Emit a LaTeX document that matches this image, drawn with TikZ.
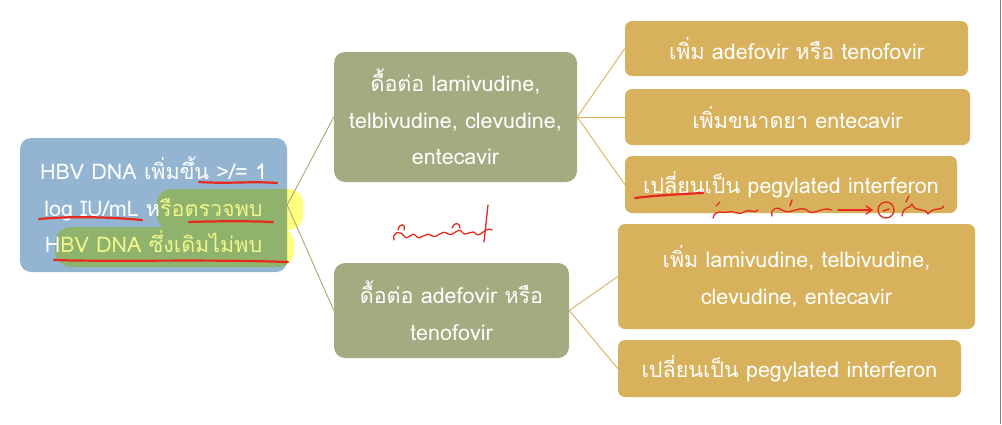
\documentclass[tikz,border=0pt]{standalone}
\usepackage{fontspec}
\setmainfont[Script=Thai]{Loma}
\definecolor{boxblue}{RGB}{148,181,209}
\definecolor{boxolive}{RGB}{165,171,129}
\definecolor{boxgold}{RGB}{216,177,92}
\definecolor{lineolive}{RGB}{168,168,125}
\definecolor{hiyellow}{RGB}{255,255,125}
\definecolor{higreen}{RGB}{143,179,108}
\definecolor{hitext}{RGB}{240,245,140}
\definecolor{pen}{RGB}{230,40,30}
\tikzset{
  base/.style={inner sep=0pt, align=center, text=white, font=\fontsize{21.5}{36.5}\selectfont},
  bluebox/.style={base, fill=boxblue, rounded corners=11pt},
  olivebox/.style={base, fill=boxolive, rounded corners=11pt},
  goldbox/.style={base, fill=boxgold, rounded corners=7pt},
  conn/.style={draw=lineolive, line width=0.9pt},
  gconn/.style={draw=boxgold, line width=0.9pt},
  redpen/.style={draw=pen, line width=2.2pt, line cap=round, line join=round},
  redthin/.style={draw=pen, line width=1.3pt, line cap=round, line join=round}
}
\begin{document}
\begin{tikzpicture}[x=1pt,y=-1pt]
\useasboundingbox (0,0) rectangle (1002,424);
\fill[white] (0,0) rectangle (1002,424);
\draw[gray, line width=1pt] (1000,0) -- (1000,424);

% yellow highlights on white (outside the box)
\fill[hiyellow, rounded corners=14pt] (157,189) rectangle (303,230);
\fill[hiyellow, rounded corners=16pt] (55,227) rectangle (294,267);

\node[bluebox, minimum width=267pt, minimum height=134pt] (src) at (153.5,205) {};

% highlights where they lie on the blue box
\begin{scope}
\clip[rounded corners=11pt] (src.north west) rectangle (src.south east);
\fill[higreen, rounded corners=14pt] (157,189) rectangle (303,230);
\fill[higreen, rounded corners=16pt] (55,227) rectangle (294,267);
\end{scope}

\node[base] (srctext) at (src.center)
  {HBV DNA เพิ่มขึ้น >/= 1\\log IU/mL ห\textcolor{hitext}{รือตรวจพบ}\\H\textcolor{hitext}{BV DNA ซึ่งเดิมไม่พบ}};

\node[olivebox, minimum width=243pt, minimum height=130pt] (m1) at (455.5,117)
  {ดื้อต่อ lamivudine,\\telbivudine, clevudine,\\entecavir};
\node[olivebox, minimum width=235pt, minimum height=95pt] (m2) at (451.5,310.5)
  {ดื้อต่อ adefovir หรือ\\tenofovir};

\node[goldbox, minimum width=343pt, minimum height=55pt] (r1) at (796.5,48.5)
  {เพิ่ม adefovir หรือ tenofovir};
\node[goldbox, minimum width=345pt, minimum height=56pt] (r2) at (797.5,117)
  {เพิ่มขนาดยา entecavir};
\node[goldbox, minimum width=332pt, minimum height=57pt] (r3) at (791,184.5)
  {เปลี่ยนเป็น pegylated interferon};
\node[goldbox, minimum width=357pt, minimum height=105pt] (r4) at (796.5,276.5)
  {เพิ่ม lamivudine, telbivudine,\\clevudine, entecavir};
\node[goldbox, minimum width=343pt, minimum height=57pt] (r5) at (789.5,368.5)
  {เปลี่ยนเป็น pegylated interferon};

\draw[conn] (src.east) -- (m1.west);
\draw[conn] (src.east) -- (m2.west);
\draw[gconn] (m1.east) -- (r1.west);
\draw[gconn] (m1.east) -- (r2.west);
\draw[gconn] (m1.east) -- (r3.west);
\draw[gconn] (m2.east) -- (r4.west);
\draw[gconn] (m2.east) -- (r5.west);

% red underlines
\draw[redpen] (199,182) .. controls (230,184) and (250,181) .. (277,183);
\draw[redpen] (39,219) .. controls (70,216) and (110,217) .. (142,220);
\draw[redpen] (189,222) .. controls (220,221) and (250,221) .. (273,222);
\draw[redpen] (54,260) .. controls (120,262) and (200,259) .. (288,262);
\draw[redpen] (635,198) .. controls (650,196) and (680,194) .. (703,193);

% handwritten scribbles (approximate)
\draw[redthin] (394,240) .. controls (392,232) and (400,230) .. (404,236)
  .. controls (408,242) and (412,230) .. (416,236)
  .. controls (420,242) and (426,230) .. (432,236)
  .. controls (436,240) and (442,228) .. (448,234)
  .. controls (452,238) and (458,226) .. (462,232)
  .. controls (466,238) and (472,228) .. (476,234)
  .. controls (480,238) and (486,226) .. (492,230);
\draw[redthin] (398,230) .. controls (400,222) and (406,224) .. (404,230);
\draw[redthin] (452,228) .. controls (454,222) and (460,222) .. (460,228);
\draw[redthin] (484,242) -- (488,205);
\draw[redthin] (713,218) .. controls (716,208) and (722,214) .. (728,212)
  .. controls (734,210) and (738,216) .. (744,212)
  .. controls (748,208) and (752,214) .. (758,210);
\draw[redthin] (716,206) -- (720,202);
\draw[redthin] (772,216) .. controls (770,208) and (778,206) .. (782,210)
  .. controls (790,216) and (800,204) .. (808,211)
  .. controls (814,216) and (822,206) .. (832,210);
\draw[redthin] (790,206) -- (792,200);
\draw[redthin] (838,210) -- (872,210);
\draw[redthin] (866,206) -- (872,210) -- (866,214);
\draw[redthin] (886,210) circle (8pt);
\draw[redthin] (883,211) -- (889,209);
\draw[redthin] (902,216) .. controls (904,204) and (910,210) .. (912,204)
  .. controls (916,214) and (924,206) .. (928,214)
  .. controls (934,206) and (940,212) .. (944,206);
\draw[redthin] (906,202) -- (909,196);
\end{tikzpicture}
\end{document}
